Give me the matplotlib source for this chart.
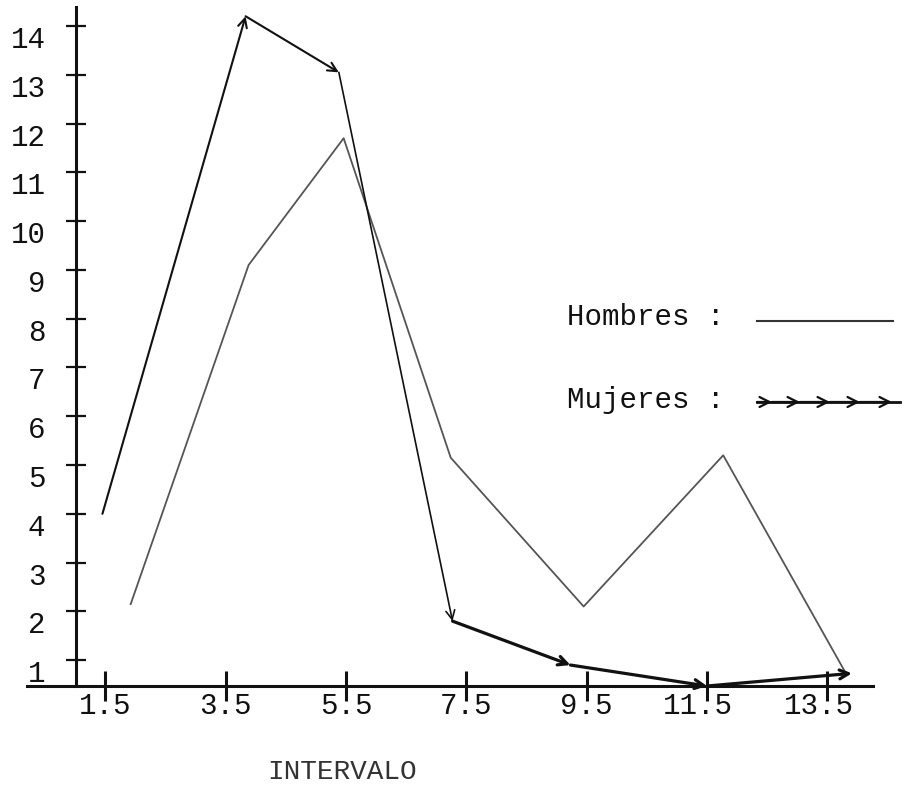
import matplotlib
matplotlib.use("Agg")
import matplotlib.pyplot as plt
from matplotlib.transforms import ScaledTranslation

plt.rcParams['font.family'] = ['Liberation Mono', 'DejaVu Sans Mono']

# values
x_ticks = [1.5, 3.5, 5.5, 7.5, 9.5, 11.5, 13.5]
x_tick_labels = ["1.5", "3.5", "5.5", "7.5", "9.5", "11.5", "13.5"]
y_ticks = list(range(1, 15))

hombres_x = [1.92, 3.88, 5.46, 7.24, 9.45, 11.77, 13.8]
hombres_y = [2.15, 9.1, 11.7, 5.15, 2.1, 5.2, 0.75]

mujeres_x = [1.45, 3.83, 5.38, 7.27, 9.23, 11.5, 13.91]
mujeres_y = [4.0, 14.2, 13.05, 1.8, 0.9, 0.47, 0.73]

ink = "#111111"
grey = "#555555"

fig = plt.figure(figsize=(9.08, 7.85), dpi=100)
ax = fig.add_axes([27 / 908, 0.1261, (873 - 27) / 908, 0.865])

ax.set_xlim(0.196, 14.26)
ax.set_ylim(0.47, 14.39)

for s in ["top", "right"]:
    ax.spines[s].set_visible(False)
for s in ["left", "bottom"]:
    ax.spines[s].set_linewidth(2.2)
    ax.spines[s].set_color(ink)
ax.spines["left"].set_position(("data", 1.01))

ax.set_xticks(x_ticks)
ax.set_xticklabels(x_tick_labels)
ax.set_yticks(y_ticks)
ax.set_yticklabels([str(v) for v in y_ticks])
ax.tick_params(axis="x", direction="inout", length=21, width=2.2, color=ink,
               labelsize=21, pad=-6, labelcolor=ink)
ax.tick_params(axis="y", direction="inout", length=14, width=1.6, color=ink,
               labelsize=21, pad=15, labelcolor=ink)
for lab in ax.get_yticklabels():
    lab.set_verticalalignment("top")
# the typed decimal point sits on the tick, so the 4-char labels move left
for lab in ax.get_xticklabels():
    if len(lab.get_text()) == 4:
        lab.set_transform(lab.get_transform()
                          + ScaledTranslation(-0.088, 0, fig.dpi_scale_trans))

# Hombres: thin plain line
ax.plot(hombres_x, hombres_y, color=grey, lw=1.3, clip_on=False)

# Mujeres: line made of arrows, heavier on the lower part
for i in range(len(mujeres_x) - 1):
    w = 1.5 if i < 3 else 2.3
    if i == 2:
        w = 1.2
    ax.annotate("", xy=(mujeres_x[i + 1], mujeres_y[i + 1]),
                xytext=(mujeres_x[i], mujeres_y[i]),
                arrowprops=dict(arrowstyle="->", lw=w, color=ink,
                                shrinkA=0, shrinkB=0, mutation_scale=16))

# hand-made key
fig.text(567 / 908, 1 - 317 / 785, "Hombres :", fontsize=21, color=ink,
         ha="left", va="center")
fig.add_artist(plt.Line2D([757 / 908, 893 / 908], [1 - 321 / 785, 1 - 321 / 785],
                          color="#333333", lw=1.5, transform=fig.transFigure))

fig.text(567 / 908, 1 - 400 / 785, "Mujeres :", fontsize=21, color=ink,
         ha="left", va="center")
key_y = 1 - 402 / 785
fig.add_artist(plt.Line2D([757 / 908, 900 / 908], [key_y, key_y],
                          color=ink, lw=2.0, transform=fig.transFigure))
heads = [757, 772, 800, 830, 860, 892]
for a, b in zip(heads[:-1], heads[1:]):
    ax.annotate("", xy=(b / 908, key_y), xytext=(a / 908, key_y),
                xycoords="figure fraction", textcoords="figure fraction",
                arrowprops=dict(arrowstyle="->", lw=1.6, color=ink,
                                shrinkA=0, shrinkB=0, mutation_scale=18))

fig.text(342 / 908, 1 - 772 / 785, "INTERVALO", fontsize=20, color="#333333",
         ha="center", va="center")

fig.savefig("out.png", dpi=100, facecolor="white")
